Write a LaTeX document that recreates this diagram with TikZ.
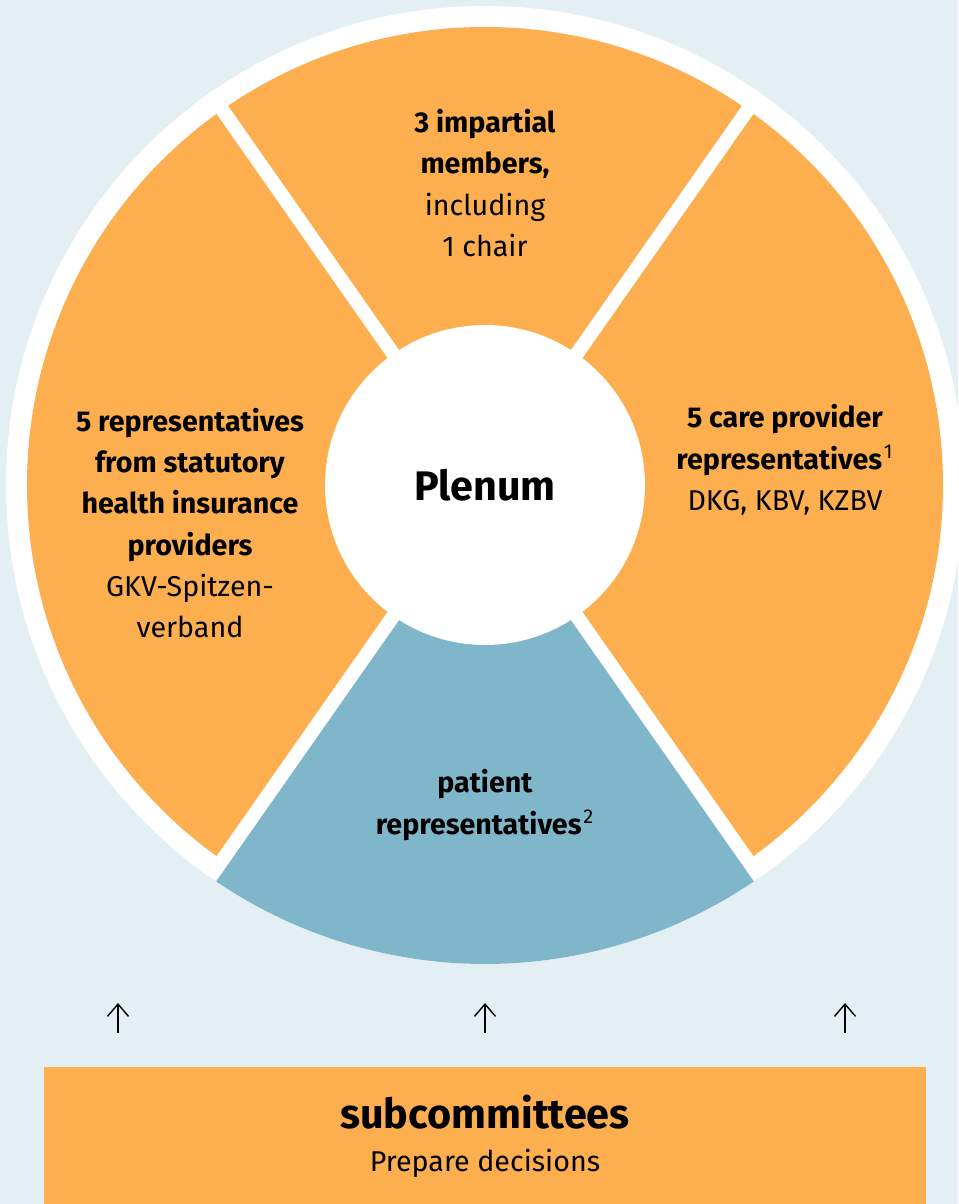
\documentclass[tikz,border=0pt]{standalone}
\usepackage{fontspec}
\setmainfont{Fira Sans}
\usetikzlibrary{arrows.meta}
\definecolor{gbaorange}{HTML}{FDAF4F}
\definecolor{gbablue}{HTML}{80B6CA}
\definecolor{gbabg}{HTML}{E3EFF3}
\begin{document}
\begin{tikzpicture}[x=0.02cm,y=0.02cm,
    gap/.style={white,line width=0.28cm},
    seat/.style={align=center,font=\fontsize{16.3}{23.5}\selectfont},
    up/.style={line width=0.8pt,-{Straight Barb[length=7pt,width=12pt]}}]
    %% background
    \fill[gbabg] (-485,-719) rectangle (473,485);
    \useasboundingbox (-485,-719) rectangle (473,485);
    %% ring and sectors
    \fill[white] (0,0) circle[radius=479];
    \fill[gbaorange] (0,0) circle[radius=458];
    \fill[gbablue] (0,0) -- (235:479) arc[start angle=235,end angle=305,radius=479] -- cycle;
    \foreach \a in {55,125,235,305}
        \draw[gap] (0,0) -- (\a:479);
    %% plenum
    \node[circle,fill=white,minimum size=6.4cm,font=\fontsize{23.5}{28}\selectfont\bfseries] (plenum) at (0,0) {Plenum};
    %% seats
    \node[seat] (impartial) at (0,302) {\textbf{3 impartial}\\\textbf{members,}\\including\\1 chair};
    \node[seat] (insurers) at (-295,-38) {\textbf{5 representatives}\\\textbf{from statutory}\\\textbf{health insurance}\\\textbf{providers}\\GKV-Spitzen-\\verband};
    \node[seat] (providers) at (300,25) {\textbf{5 care provider}\\\textbf{representatives}\kern1pt\textsuperscript{1}\\DKG, KBV, KZBV};
    \node[seat] (patients) at (0,-320) {\textbf{patient}\\\textbf{representatives}\kern1pt\textsuperscript{2}};
    %% subcommittees
    \node[fill=gbaorange,minimum width=17.66cm,minimum height=2.74cm,anchor=south] (subcomm) at (0,-719) {};
    \node[font=\fontsize{23.5}{28}\selectfont\bfseries] (subtitle) at (0,-627) {subcommittees};
    \node[seat] (subtext) at (0,-678) {Prepare decisions};
    %% arrows
    \foreach \x [count=\i] in {-367,0,360} {
        \coordinate (up\i) at (\x,-548);
        \draw[up] (up\i) -- ++(0,30);
    }
\end{tikzpicture}
\end{document}
